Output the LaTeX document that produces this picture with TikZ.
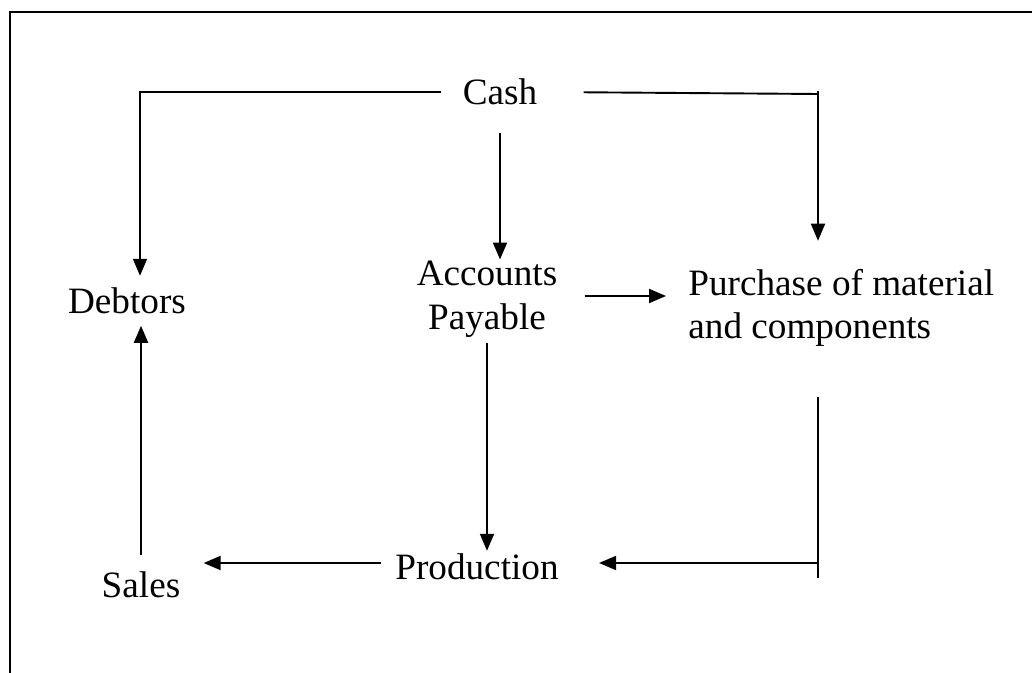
\documentclass[tikz,border=0pt]{standalone}
\usepackage{fontspec}
\setmainfont{Liberation Serif}
\usetikzlibrary{arrows.meta,calc}

\begin{document}
\begin{tikzpicture}[x=0.5pt,y=-0.5pt,
  lbl/.style={inner sep=0pt,font=\fontsize{18.6}{21.8}\selectfont},
  arr/.style={line width=0.95pt,-{Triangle[length=8.5pt,width=7pt]}},
  link/.style={line width=0.95pt},
  frame/.style={line width=1.1pt}]
\useasboundingbox (0,0) rectangle (1032,673);

% Frame
\draw[frame] (10,673) -- (10,12) -- (1032,12);

% Labels
\node[lbl,anchor=base] (cash) at (500,105) {Cash};
\node[lbl,anchor=base] (debtors) at (127,314) {Debtors};
\node[lbl,align=center] (payable) at (487,299) {Accounts\\Payable};
\node[lbl,align=left,anchor=west] (purchase) at (688,308) {Purchase of material\\and components};
\node[lbl,anchor=base] (production) at (477,579) {Production};
\node[lbl,anchor=base] (sales) at (141,597) {Sales};

% Corners
\coordinate (topturn) at (818,94);
\coordinate (lowturn) at (818,563);

% Arrows
\draw[arr] ($(cash.west)+(-21,0)$) -| ($(debtors.north)+(13,-12)$);
\draw[link] ($(cash.east)+(46,0)$) -- (topturn);
\draw[arr] ($(topturn)+(0,-3)$) -- ($(topturn |- purchase.north)+(0,-28)$);
\draw[arr] ($(cash.south)+(0,27)$) -- ($(cash.south |- payable.north)+(0,-1)$);
\draw[arr,shorten <=13.5pt,shorten >=11pt] ($(payable.east)+(0,-3)$) -- ($(payable.east -| purchase.west)+(0,-3)$);
\draw[arr,shorten <=3pt,shorten >=1pt] (payable.south) -- (payable.south |- production.north);
\draw[link] ($(lowturn |- purchase.south)+(0,50)$) -- ($(lowturn)+(0,15)$);
\draw[arr,shorten >=20pt] (lowturn) -- (lowturn -| production.east);
\draw[arr,shorten <=7pt,shorten >=11.5pt] (production.west |- lowturn) -- (sales.east |- lowturn);
\draw[arr] ($(sales.north)+(0,-16)$) -- ($(debtors.south)+(14,11)$);

\end{tikzpicture}
\end{document}
